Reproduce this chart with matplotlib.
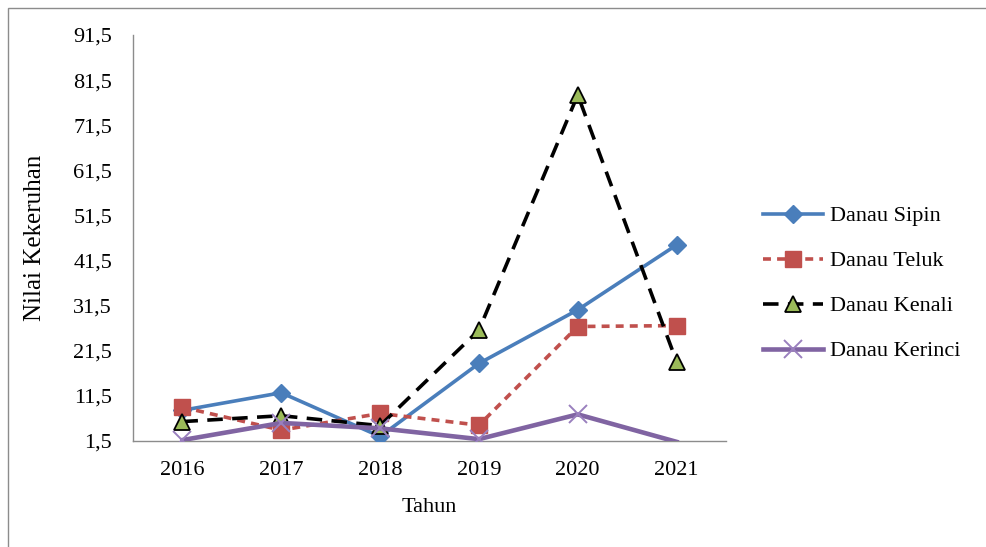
import matplotlib
matplotlib.use("Agg")
import matplotlib.pyplot as plt
from matplotlib.patches import Rectangle

# Data: turbidity index per lake and year
years = ["2016", "2017", "2018", "2019", "2020", "2021"]
sipin = [8.2, 12.1, 2.4, 18.6, 30.5, 44.9]
teluk = [8.9, 3.8, 7.5, 4.9, 26.8, 27.0]
kenali = [5.7, 7.0, 4.8, 26.0, 78.2, 19.0]
kerinci = [1.6, 5.4, 4.2, 1.8, 7.3, 1.2]

y_ticks = [1.5, 11.5, 21.5, 31.5, 41.5, 51.5, 61.5, 71.5, 81.5, 91.5]
y_min, y_max = 1.5, 91.5

plt.rcParams["font.family"] = ["Liberation Serif", "DejaVu Serif"]

fig = plt.figure(figsize=(9.86, 5.47), dpi=100)
ax = fig.add_axes([133 / 986, 1 - 440.5 / 547, (726 - 133) / 986, (440.5 - 35) / 547])

# Outer chart-area frame
fig.patches.append(Rectangle((8 / 986, -0.05), 1.05, 1 - 8 / 547 + 0.05,
                             transform=fig.transFigure, fill=False,
                             edgecolor="#8c8c8c", linewidth=1.0))

x = list(range(len(years)))

ax.plot(x, sipin, color="#4A7EBB", linewidth=2.6, marker="D", markersize=9,
        markerfacecolor="#4A7EBB", markeredgecolor="#4A7EBB", label="Danau Sipin",
        zorder=3)
ax.plot(x, teluk, color="#C0504D", linewidth=2.6, dashes=(2.2, 1.7), marker="s",
        markersize=11, markerfacecolor="#C0504D", markeredgecolor="#C0504D",
        label="Danau Teluk", zorder=4)
ax.plot(x, kenali, color="black", linewidth=2.6, dashes=(4.3, 2.6), marker="^",
        markersize=12, markerfacecolor="#9BBB59", markeredgecolor="black",
        markeredgewidth=1.3, label="Danau Kenali", zorder=5)
# markers only for points inside the visible value range
visible = [i for i, v in enumerate(kerinci) if v >= y_min]
ax.plot(x, kerinci, color="#8064A2", linewidth=3.3, marker="x", markersize=13,
        markeredgewidth=1.4, markeredgecolor="#9A80BE", markevery=visible,
        label="Danau Kerinci", zorder=6)

ax.set_xlim(-0.5, len(years) - 0.5)
ax.set_ylim(y_min, y_max)
ax.set_xticks(x)
ax.set_xticklabels(years, fontsize=16)
ax.set_yticks(y_ticks)
ax.set_yticklabels([f"{v:.1f}".replace(".", ",") for v in y_ticks], fontsize=16)
ax.tick_params(axis="x", length=0, pad=15)
ax.tick_params(axis="y", length=0, pad=15)

for side in ("top", "right"):
    ax.spines[side].set_visible(False)
for side in ("left", "bottom"):
    ax.spines[side].set_color("#8c8c8c")
    ax.spines[side].set_linewidth(1.0)

ax.set_xlabel("Tahun", fontsize=16, labelpad=13)
ax.set_ylabel("Nilai Kekeruhan", fontsize=18, labelpad=20)

leg = fig.legend(loc="upper left", bbox_to_anchor=(754 / 986, 1 - 197 / 547),
                 frameon=False, fontsize=16, handlelength=2.7, handletextpad=0.3,
                 labelspacing=1.1, borderaxespad=0)

fig.savefig("out.png", dpi=100)
